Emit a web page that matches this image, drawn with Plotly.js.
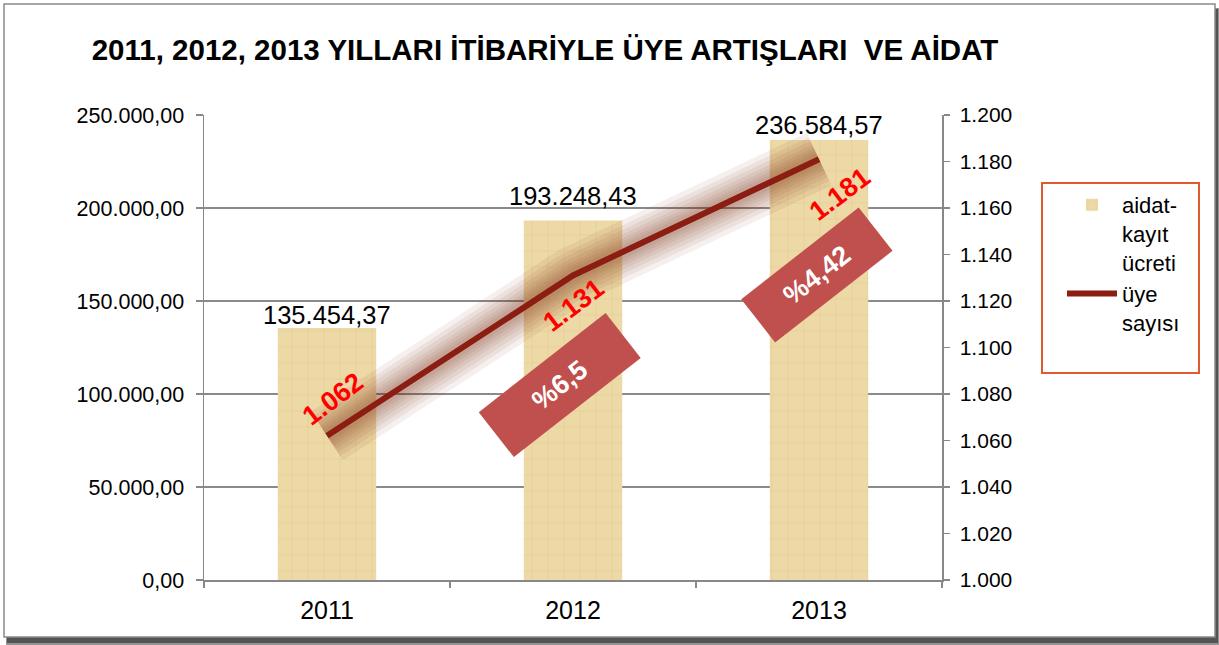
<!DOCTYPE html>
<html>
<head>
<meta charset="utf-8">
<script src="https://cdn.plot.ly/plotly-3.0.1.min.js"></script>
<style>html,body{margin:0;padding:0;background:#fff;}#chart{width:1219px;height:645px;}</style>
</head>
<body>
<div id="chart"></div>
<script>
// ---- data ----
const years = ['2011', '2012', '2013'];
const aidat = [135454.37, 193248.43, 236584.57];
const uyeSayisi = [1062, 1131, 1181];
const uyeLabels = ['1.062', '1.131', '1.181'];
const artisYears = ['2012', '2013'];
const artisLabels = ['%6,5', '%4,42'];
const chartTitle = '2011, 2012, 2013 YILLARI İTİBARİYLE ÜYE ARTIŞLARI\u00A0 VE AİDAT';
const legendNames = ['aidat-<br>kayıt<br>ücreti', 'üye<br>sayısı'];

const FONT = 'Arial, "Liberation Sans", sans-serif';

// Turkish number format: 135.454,37
function fmtTR(v) {
  const parts = v.toFixed(2).split('.');
  return parts[0].replace(/\B(?=(\d{3})+(?!\d))/g, '.') + ',' + parts[1];
}

const traces = [];
traces.push({
  type: 'bar', name: legendNames[0], x: years, y: aidat, width: 0.4,
  marker: {color: '#EBD6A0', line: {width: 0},
    pattern: {shape: '+', fgcolor: '#E3CC93', bgcolor: '#EDD9A6', size: 16, solidity: 0.08, fillmode: 'replace'}},
  hoverinfo: 'skip'
});
// soft glow under the line
[58, 48, 40, 32, 25, 19, 13].forEach(w => traces.push({
  type: 'scatter', mode: 'lines', x: years, y: uyeSayisi, yaxis: 'y2', showlegend: false,
  line: {color: 'rgba(125,40,20,0.075)', width: w}, hoverinfo: 'skip'
}));
traces.push({
  type: 'scatter', mode: 'lines', name: legendNames[1], x: years, y: uyeSayisi, yaxis: 'y2',
  line: {color: '#8C1D12', width: 6}, hoverinfo: 'skip'
});

const annotations = [];
// bar value labels
const barLabelShift = [-2, 10, 0];
aidat.forEach((v, i) => annotations.push({
  xref: 'x', yref: 'y', x: i, y: v, text: fmtTR(v), showarrow: false,
  yanchor: 'bottom', xanchor: 'center', yshift: barLabelShift[i], borderpad: 0,
  font: {family: FONT, size: 25.5, color: '#000'}
}));
// member count labels
const shifts = [[6, 37], [1, -30], [21, -35]];
uyeSayisi.forEach((v, i) => annotations.push({
  xref: 'x', yref: 'y2', x: i, y: v, text: '<b>' + uyeLabels[i] + '</b>', showarrow: false,
  xshift: shifts[i][0], yshift: shifts[i][1], textangle: -37,
  font: {family: FONT, size: 27, color: '#FF0000'}
}));
// percentage increase boxes
const boxShifts = [[-13, -110, 160, 56], [-2, -116, 148, 54]];
artisYears.forEach((yr, i) => {
  const idx = years.indexOf(yr);
  annotations.push({
    xref: 'x', yref: 'y2', x: idx, y: uyeSayisi[idx], text: '<b>' + artisLabels[i] + '</b>', showarrow: false,
    xshift: boxShifts[i][0], yshift: boxShifts[i][1], textangle: -38,
    width: boxShifts[i][2], height: boxShifts[i][3], borderpad: 0, align: 'center', valign: 'middle',
    bgcolor: '#C0504D', font: {family: FONT, size: 27, color: '#FFFFFF'}
  });
});

const pxShape = (x0, y0, x1, y1, extra) => Object.assign({
  type: 'rect', xref: 'paper', yref: 'paper', xsizemode: 'pixel', ysizemode: 'pixel',
  xanchor: 0, yanchor: 0, x0: x0 - 204, x1: x1 - 204, y0: 580 - y0, y1: 580 - y1, layer: 'below'
}, extra);

const shapes = [
  pxShape(6, 8, 1219, 645, {fillcolor: 'rgba(60,60,60,0.55)', line: {width: 0}}),
  pxShape(7, 9, 1218, 643, {fillcolor: 'rgba(40,40,40,0.6)', line: {width: 0}}),
  pxShape(4, 4, 1215, 637, {fillcolor: '#FFFFFF', line: {color: '#8A8A8A', width: 1.5}}),
  pxShape(1042, 183, 1199, 373, {fillcolor: 'rgba(0,0,0,0)', line: {color: '#E05A2E', width: 2}, layer: 'above'})
];

const layout = {
  width: 1219, height: 645,
  margin: {l: 204, r: 277, t: 115, b: 65, pad: 0},
  paper_bgcolor: '#FFFFFF', plot_bgcolor: 'rgba(0,0,0,0)',
  separators: ',.',
  font: {family: FONT, color: '#000'},
  title: {text: '<b>' + chartTitle + '</b>', xref: 'container', yref: 'container',
    x: 545 / 1219, xanchor: 'center', y: 1 - 50 / 645, yanchor: 'middle',
    font: {family: FONT, size: 29.5, color: '#000'}},
  showlegend: true,
  legend: {x: (1062 - 204) / 738, xanchor: 'left', y: (580 - 184) / 465, yanchor: 'top',
    font: {family: FONT, size: 22, color: '#000'}, bgcolor: 'rgba(0,0,0,0)', borderwidth: 0,
    valign: 'top', itemwidth: 50, tracegroupgap: 10},
  xaxis: {type: 'category', categoryorder: 'array', categoryarray: years, range: [-0.5, 2.5],
    showline: true, linecolor: '#888', linewidth: 1.5, ticks: 'outside', tickson: 'boundaries',
    ticklen: 6, tickcolor: '#888', tickwidth: 1.5, showgrid: false, zeroline: false,
    ticklabelstandoff: 7,
    tickfont: {family: FONT, size: 25, color: '#000'}},
  yaxis: {range: [0, 250000], dtick: 50000, tick0: 0, tickformat: ',.2f',
    showgrid: true, gridcolor: '#8A8A8A', gridwidth: 1.5, showline: true, linecolor: '#888', linewidth: 1.5,
    ticks: 'outside', ticklen: 7, tickcolor: '#888', tickwidth: 1.5, zeroline: false,
    ticklabelstandoff: 7,
    tickfont: {family: FONT, size: 21.5, color: '#000'}},
  yaxis2: {overlaying: 'y', side: 'right', range: [1000, 1200], dtick: 20, tick0: 1000, tickformat: ',d',
    showgrid: false, showline: true, linecolor: '#888', linewidth: 1.5, ticks: 'outside', ticklen: 6,
    tickcolor: '#888', tickwidth: 1.5, zeroline: false, ticklabelstandoff: 6,
    tickfont: {family: FONT, size: 21, color: '#000'}},
  shapes: shapes,
  annotations: annotations,
  bargap: 0.6
};

Plotly.newPlot('chart', traces, layout, {displayModeBar: false, staticPlot: true});
</script>
</body>
</html>
